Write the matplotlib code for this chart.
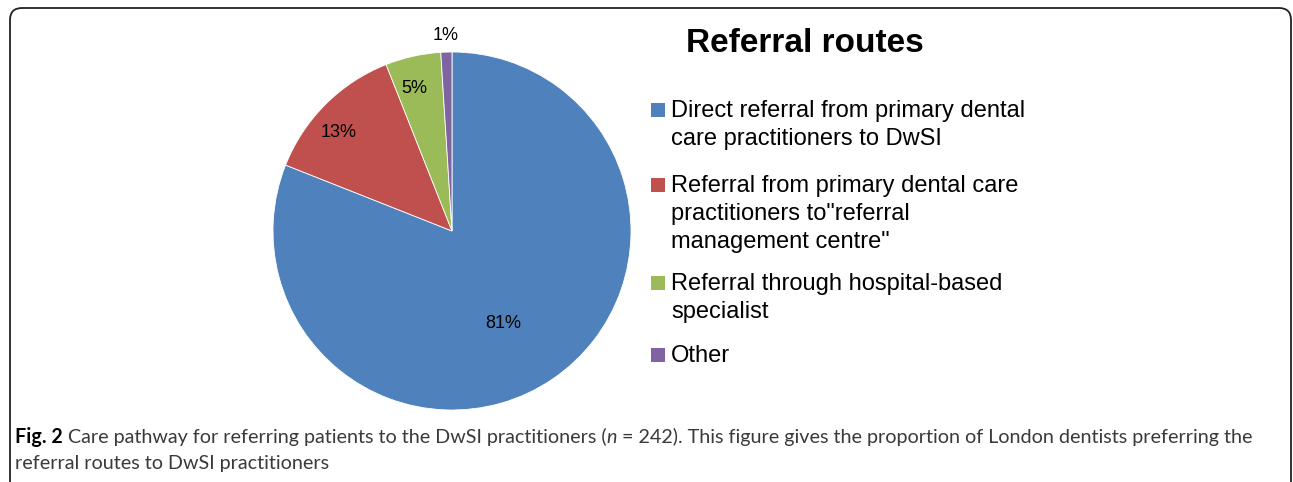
import matplotlib
matplotlib.use("Agg")
import matplotlib.pyplot as plt
from matplotlib.patches import FancyBboxPatch, Rectangle
from matplotlib.transforms import IdentityTransform
import numpy as np

# ---- data ----
categories = [
    "Direct referral from primary dental\ncare practitioners to DwSI",
    "Referral from primary dental care\npractitioners to\"referral\nmanagement centre\"",
    "Referral through hospital-based\nspecialist",
    "Other",
]
values = [81, 13, 5, 1]
colors = ["#4F81BD", "#C0504D", "#9BBB59", "#8064A2"]
title = "Referral routes"

W, H = 1293, 482
fig = plt.figure(figsize=(W / 100, H / 100), dpi=100)
fig.patch.set_facecolor("white")
plt.rcParams["font.family"] = ["Liberation Sans", "DejaVu Sans"]

# ---- pie ----
cx, cy, r = 452, 231, 179
ax = fig.add_axes([(cx - r) / W, (H - cy - r) / H, 2 * r / W, 2 * r / H])
wedges, _ = ax.pie(values, colors=colors, startangle=90, counterclock=False,
                   wedgeprops=dict(edgecolor="white", linewidth=0.6))
ax.set_xlim(-1, 1)
ax.set_ylim(-1, 1)
ax.set_aspect("equal")
ax.axis("off")

# label placement (best-fit style): radial distance and angular nudge
label_dist = [0.59, 0.84, 0.825, 1.09]
label_nudge = [-5, 4, 2, 0]
for w, v, d, n in zip(wedges, values, label_dist, label_nudge):
    ang = np.deg2rad((w.theta1 + w.theta2) / 2 + n)
    ax.text(d * np.cos(ang), d * np.sin(ang), f"{v}%", ha="center", va="center",
            fontsize=13, color="black", clip_on=False)

# ---- title ----
fig.text(805 / W, (H - 43) / H, title, ha="center", va="center",
         fontsize=24, fontweight="bold", color="black")

# ---- legend ----
item_baselines = [117, 192, 290, 362]
line_step = 28
for lab, col, b in zip(categories, colors, item_baselines):
    fig.patches.append(Rectangle((651 / W, (H - b) / H), 14 / W, 14 / H,
                                 transform=fig.transFigure, facecolor=col,
                                 edgecolor="none"))
    for i, line in enumerate(lab.split("\n")):
        fig.text(671 / W, (H - b - i * line_step) / H, line, ha="left",
                 va="baseline", fontsize=17, color="black")

# ---- border ----
box = FancyBboxPatch((10, -20), 1281, H - 8 + 20,
                     boxstyle="round,pad=0,rounding_size=12",
                     transform=IdentityTransform(), facecolor="none",
                     edgecolor="#222222", linewidth=1.3)
fig.patches.append(box)

# ---- caption ----
cap_font = ["Lato", "DejaVu Sans"]
cap_color = "#3a3a3a"
line1 = [("Fig. 2", "bold", "normal", "black"),
         (" Care pathway for referring patients to the DwSI practitioners (", "normal", "normal", cap_color),
         ("n", "normal", "italic", cap_color),
         (" = 242). This figure gives the proportion of London dentists preferring the", "normal", "normal", cap_color)]
line2 = [("referral routes to DwSI practitioners", "normal", "normal", cap_color)]

renderer = fig.canvas.get_renderer()

def draw_line(pieces, x0, base, size):
    x = x0
    texts = []
    for s, wt, st, c in pieces:
        t = fig.text(x / W, (H - base) / H, s, ha="left", va="baseline",
                     fontsize=size, fontweight=wt, fontstyle=st, color=c,
                     family=cap_font)
        bb = t.get_window_extent(renderer)
        x = bb.x1
        texts.append(t)
    return x, texts

# fit caption size to target width
end, tx = draw_line(line1, 15, 443, 10)
for t in tx:
    t.remove()
size = 10 * (1258 - 15) / (end - 15)
draw_line(line1, 15, 443, size)
draw_line(line2, 15, 469, size)

fig.savefig("out.png", dpi=100, facecolor="white")
